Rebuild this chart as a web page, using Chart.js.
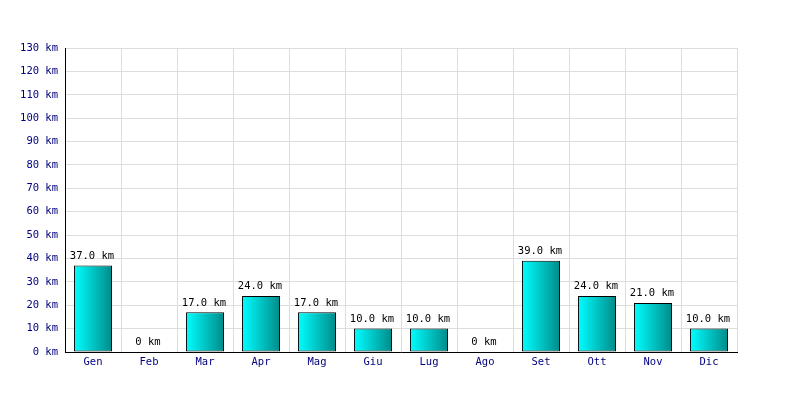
<!DOCTYPE html>
<html><head><meta charset="utf-8">
<script src="https://cdn.jsdelivr.net/npm/chart.js@4/dist/chart.umd.min.js"></script>
<style>html,body{margin:0;padding:0;background:#fff}#wrap{width:800px;height:400px}</style>
</head><body><div id="wrap"><canvas id="c" width="800" height="400"></canvas></div>
<script>
const months = ["Gen","Feb","Mar","Apr","Mag","Giu","Lug","Ago","Set","Ott","Nov","Dic"];
const distances = [37,0,17,24,17,10,10,0,39,24,21,10];
const yMax = 130;
const yStep = 10;

const FONT = "'DejaVu Sans Mono', 'Liberation Mono', monospace";
const CAT_PCT = 0.8, BAR_PCT = 0.85;

function fmt(v){ return v === 0 ? "0 km" : v.toFixed(1) + " km"; }

const labelPlugin = {
  id: 'vals',
  afterDatasetsDraw(chart){
    const ctx = chart.ctx;
    const meta = chart.getDatasetMeta(0);
    ctx.save();
    ctx.font = "10.5px " + FONT;
    ctx.fillStyle = "#000";
    ctx.textAlign = "center";
    ctx.textBaseline = "bottom";
    meta.data.forEach((el,i)=>{
      ctx.fillText(fmt(distances[i]), el.x - 1, el.y - 4);
    });
    ctx.restore();
  }
};

new Chart(document.getElementById('c'), {
  type: 'bar',
  data: {
    labels: months,
    datasets: [{
      data: distances,
      categoryPercentage: CAT_PCT,
      barPercentage: BAR_PCT,
      borderColor: '#000',
      borderWidth: 1,
      borderSkipped: false,
      backgroundColor: (c) => {
        const chart = c.chart;
        const xs = chart.scales.x;
        if (!xs || !chart.chartArea) return '#00c0c0';
        const cx = xs.getPixelForValue(c.dataIndex);
        const w = (xs.width / months.length) * CAT_PCT * BAR_PCT;
        const g = chart.ctx.createLinearGradient(cx - w/2, 0, cx + w/2, 0);
        g.addColorStop(0, '#00ffff');
        g.addColorStop(1, '#008b8b');
        return g;
      }
    }]
  },
  options: {
    responsive: false,
    animation: false,
    layout: { padding: { left: 0, right: 63, top: 48, bottom: 0 } },
    plugins: { legend: { display: false }, tooltip: { enabled: false } },
    scales: {
      x: {
        grid: { color: '#dddddd', offset: true, drawTicks: false },
        border: { color: '#000', width: 1 },
        ticks: { color: '#000080', font: { family: FONT, size: 10.5 }, padding: 4 },
        afterFit: (s) => { s.height = 48; }
      },
      y: {
        min: 0, max: yMax,
        grid: { color: '#dddddd', drawTicks: false },
        border: { color: '#000', width: 1 },
        ticks: { stepSize: yStep, color: '#000080', font: { family: FONT, size: 10.5 }, padding: 7,
                 callback: (v) => v + " km" },
        afterFit: (s) => { s.width = 65; }
      }
    }
  },
  plugins: [labelPlugin]
});
</script></body></html>
